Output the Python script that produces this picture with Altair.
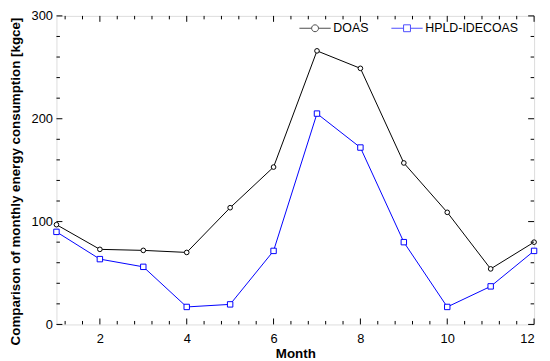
import altair as alt
import pandas as pd

months = [1, 2, 3, 4, 5, 6, 7, 8, 9, 10, 11, 12]
doas = [97, 73, 72, 70, 113.5, 153, 266, 249, 157, 109, 54, 80]
hpld = [90, 63.5, 56, 17, 19.5, 71.5, 205, 172, 80, 17, 37, 71.5]
series_names = ["DOAS", "HPLD-IDECOAS"]
series_colors = ["#000000", "#0000ff"]
x_major = [2, 4, 6, 8, 10, 12]
x_minor = [1.2, 1.6, 2.4, 2.8, 3.2, 3.6, 4.4, 4.8, 5.2, 5.6, 6.4, 6.8, 7.2, 7.6,
           8.4, 8.8, 9.2, 9.6, 10.4, 10.8, 11.2, 11.6]
y_major = [0, 100, 200, 300]
y_minor = [20, 40, 60, 80, 120, 140, 160, 180, 220, 240, 260, 280]

W, H = 483, 312
TOP = 6
FONT = "Liberation Sans"

df_doas = pd.DataFrame({"month": months, "value": doas, "series": series_names[0]})
df_hpld = pd.DataFrame({"month": months, "value": hpld, "series": series_names[1]})
df_all = pd.concat([df_doas, df_hpld])

xscale = alt.Scale(domain=[1, 12], nice=False, zero=False)
yscale = alt.Scale(domain=[0, 300], nice=False)

x_axis = alt.Axis(values=x_major, format="d", ticks=False, tickSize=0, domain=False,
                  grid=False, labelFontSize=13, labelPadding=8, labelColor="black",
                  labelFont=FONT, title="Month", titleFont=FONT, titleFontSize=13.5,
                  titleFontWeight="bold", titleY=22, titleBaseline="top", titleColor="black")
y_axis = alt.Axis(values=y_major, format="d", ticks=False, tickSize=0, domain=False,
                  grid=False, labelFontSize=13, labelPadding=4, labelColor="black",
                  labelFont=FONT, title="Comparison of monthly energy consumption [kgce]",
                  titleFont=FONT, titleFontSize=13.5, titleFontWeight="bold",
                  titleX=-48, titleY=181 - 8 - TOP, titleBaseline="top", titleAlign="center",
                  titleAngle=270, titleColor="black")

X = alt.X("month:Q", scale=xscale, axis=x_axis)
Y = alt.Y("value:Q", scale=yscale, axis=y_axis)

line_doas = alt.Chart(df_doas).mark_line(color=series_colors[0], strokeWidth=1).encode(x=X, y=Y)
line_hpld = alt.Chart(df_hpld).mark_line(color=series_colors[1], strokeWidth=1).encode(x=X, y=Y)
pts_doas = alt.Chart(df_doas).mark_point(shape="circle", size=22, filled=True, fill="white",
                                          stroke=series_colors[0], strokeWidth=1, opacity=1).encode(x=X, y=Y)
pts_hpld = alt.Chart(df_hpld).mark_point(shape="square", size=30, filled=True, fill="white",
                                          stroke=series_colors[1], strokeWidth=1, opacity=1).encode(x=X, y=Y)

circ_path = ("M-1,0H-0.22M0.22,0H1M0.22,0A0.22,0.22 0 1 1 -0.22,0"
             "A0.22,0.22 0 1 1 0.22,0Z")
sq_path = "M-1,0H-0.22M0.22,0H1M-0.22,-0.22H0.22V0.22H-0.22Z"

legend = alt.Legend(title=None, orient="none", legendX=245, legendY=-4, direction="horizontal",
                    labelFont=FONT, labelFontSize=12.5, labelColor="black", symbolSize=1000,
                    symbolStrokeWidth=1, symbolFillColor="white", labelOffset=2,
                    columnPadding=20, padding=0)
legend_layer = alt.Chart(df_all).mark_point(filled=False, size=0).encode(
    x=X, y=Y,
    color=alt.Color("series:N", scale=alt.Scale(domain=series_names, range=series_colors),
                    legend=legend),
    shape=alt.Shape("series:N", scale=alt.Scale(domain=series_names, range=[circ_path, sq_path]),
                    legend=legend),
)

xt_major = pd.DataFrame({"month": x_major})
xt_minor = pd.DataFrame({"month": x_minor})
yt_major = pd.DataFrame({"value": y_major})
yt_minor = pd.DataFrame({"value": y_minor})

def xticks(df, length):
    bot = alt.Chart(df).mark_rule(color="black", strokeWidth=1).encode(
        x=X, y=alt.value(H), y2=alt.value(H - length))
    top = alt.Chart(df).mark_rule(color="black", strokeWidth=1).encode(
        x=X, y=alt.value(0), y2=alt.value(length))
    return [bot, top]

def yticks(df, length):
    left = alt.Chart(df).mark_rule(color="black", strokeWidth=1).encode(
        y=Y, x=alt.value(0), x2=alt.value(length))
    right = alt.Chart(df).mark_rule(color="black", strokeWidth=1).encode(
        y=Y, x=alt.value(W), x2=alt.value(W - length))
    return [left, right]

layers = ([line_doas, line_hpld, pts_doas, pts_hpld, legend_layer]
          + xticks(xt_major, 6) + xticks(xt_minor, 3.5) + yticks(yt_major, 6) + yticks(yt_minor, 3.5))

chart = alt.layer(*layers).properties(
    width=W, height=H,
    autosize=alt.AutoSizeParams(type="none"),
    padding={"left": 49, "top": TOP, "right": 8, "bottom": 35},
).configure_view(stroke="black", strokeWidth=1).configure(background="white")

chart.save("out.html", embed_options={"renderer": "svg", "actions": False})
